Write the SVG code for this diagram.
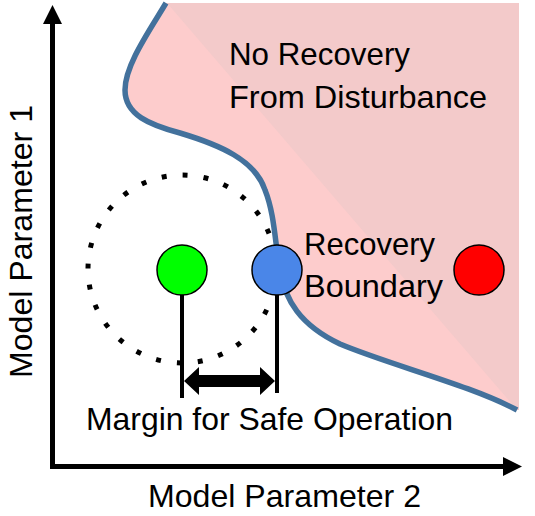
<svg xmlns="http://www.w3.org/2000/svg" width="535" height="516" viewBox="0 0 535 516">
<style>
text{font-family:"Liberation Sans",Arial,sans-serif;font-size:32px;fill:#000}
.pt{stroke:#000;stroke-width:1.5}
.ax{fill:none;stroke:#000;stroke-width:5}
.lead{stroke:#000;stroke-width:4;fill:none}
</style>
<rect width="535" height="516" fill="#fff"/>
<g id="region">
<path d="M166,3 C150,30 125,65 125,90 C125,115 150,125 180,133 C220,145 255,160 265,190 C275,215 275,245 280,270 C285,300 300,325 340,344 C390,365 470,385 517,410 L519,410 L519,3 Z" fill="#FDCCCC"/>
<path d="M167,3 L519,3 L519,410 L517,410 Z" fill="#F3CACA"/>
<path d="M166,3 C150,30 125,65 125,90 C125,115 150,125 180,133 C220,145 255,160 265,190 C275,215 275,245 280,270 C285,300 300,325 340,344 C390,365 470,385 517,410" fill="none" stroke="#43719C" stroke-width="5.5"/>
</g>
<g id="disturbance-circle">
<circle cx="182" cy="269" r="94" fill="none" stroke="#000" stroke-width="5" stroke-dasharray="5 16.09"/>
</g>
<g id="connectors">
<line class="lead" x1="182" y1="295" x2="182" y2="398"/>
<line class="lead" x1="277" y1="295" x2="277" y2="393"/>
<polygon points="184,381 199,367 199,375 260,375 260,367 275,381 260,395 260,387 199,387 199,395" fill="#000"/>
</g>
<g id="node-green"><circle class="pt" cx="182" cy="270" r="25" fill="#00FF00"/></g>
<g id="node-blue"><circle class="pt" cx="277" cy="270" r="25" fill="#4A86E8"/></g>
<g id="node-red"><circle class="pt" cx="479" cy="270" r="25" fill="#FF0000"/></g>
<g id="label-no-recovery">
<text x="229" y="65" textLength="181" lengthAdjust="spacingAndGlyphs">No Recovery</text>
<text x="229" y="108" textLength="258" lengthAdjust="spacingAndGlyphs">From Disturbance</text>
</g>
<g id="label-boundary">
<text x="304" y="255" textLength="131" lengthAdjust="spacingAndGlyphs">Recovery</text>
<text x="304" y="297" textLength="139" lengthAdjust="spacingAndGlyphs">Boundary</text>
</g>
<g id="label-margin">
<text x="86" y="430" textLength="367" lengthAdjust="spacingAndGlyphs">Margin for Safe Operation</text>
</g>
<g id="axes">
<path class="ax" d="M52.5,22 V466.5 H505" stroke-linejoin="miter"/>
<polygon points="52.5,5 43,24 62,24" fill="#000"/>
<polygon points="522,466.5 503,457 503,476" fill="#000"/>
<text x="148" y="507" textLength="273" lengthAdjust="spacingAndGlyphs">Model Parameter 2</text>
<text transform="translate(32,378) rotate(-90)" x="0" y="0" textLength="273" lengthAdjust="spacingAndGlyphs">Model Parameter 1</text>
</g>
</svg>
